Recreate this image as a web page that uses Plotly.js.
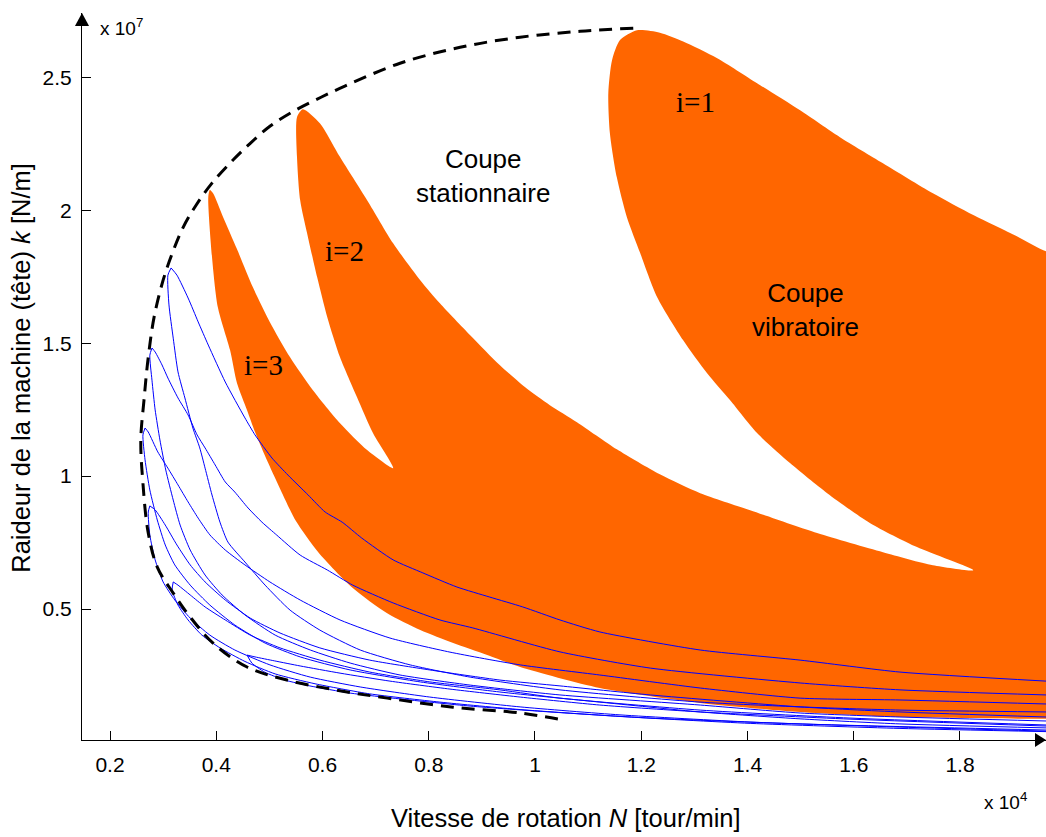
<!DOCTYPE html>
<html>
<head>
<meta charset="utf-8">
<script src="https://cdn.plot.ly/plotly-3.0.1.min.js"></script>
<style>html,body{margin:0;padding:0;background:#fff;}#chart{width:1046px;height:837px;}</style>
</head>
<body>
<div id="chart"></div>
<script>
// ---------- tick labels ----------
const xTickVals = [0.2, 0.4, 0.6, 0.8, 1.0, 1.2, 1.4, 1.6, 1.8];
const xTickText = ['0.2', '0.4', '0.6', '0.8', '1', '1.2', '1.4', '1.6', '1.8'];
const yTickVals = [0.5, 1.0, 1.5, 2.0, 2.5];
const yTickText = ['0.5', '1', '1.5', '2', '2.5'];

// ---------- orange unstable region (boundary pieces, x in 1e4 tr/min, y in 1e7 N/m) ----------
// lower edge of lobe i=3 and of the merged band
const bandLowX = [0.388,0.385,0.392,0.403,0.426,0.439,0.458,0.473,0.497,0.524,0.550,0.592,0.657,0.721,0.784,0.846,0.910,0.972,1.122,1.311,1.499,1.687,1.962,1.99];
const bandLowY = [2.076,2.049,1.824,1.635,1.474,1.350,1.248,1.166,1.053,0.936,0.831,0.714,0.579,0.485,0.421,0.372,0.327,0.282,0.203,0.147,0.113,0.094,0.087,0.087];
// upper-right edge of lobe i=1 (right to top)
const lobe1TopX = [1.99,1.962,1.907,1.825,1.749,1.655,1.574,1.499,1.418,1.343,1.279,1.235,1.192];
const lobe1TopY = [1.846,1.846,1.902,1.982,2.064,2.177,2.275,2.376,2.478,2.572,2.635,2.668,2.677];
// left edge of lobe i=1 (top to lower tip)
const lobe1LeftX = [1.160,1.145,1.138,1.141,1.154,1.173,1.198,1.230,1.279,1.324,1.367,1.418,1.480,1.550,1.631,1.719,1.825];
const lobe1LeftY = [2.640,2.564,2.440,2.290,2.124,1.974,1.839,1.673,1.511,1.387,1.286,1.162,1.049,0.936,0.823,0.733,0.646];
// upper-right edge of lobe i=2 (tip of gap back up to top of lobe)
const lobe2RightX = [1.749,1.655,1.531,1.405,1.311,1.235,1.154,1.079,1.028,0.981,0.934,0.878,0.821,0.784,0.733,0.684,0.633,0.595,0.563];
const lobe2RightY = [0.665,0.714,0.786,0.872,0.936,1.007,1.101,1.203,1.267,1.335,1.417,1.530,1.650,1.737,1.876,2.038,2.200,2.327,2.380];
// left edge of lobe i=2 (top down to gap tip)
const lobe2LeftX = [0.552,0.552,0.558,0.571,0.590,0.609,0.633,0.665,0.695,0.733];
const lobe2LeftY = [2.350,2.200,2.038,1.914,1.748,1.598,1.447,1.297,1.162,1.030];
// upper-right edge of lobe i=3 (gap tip back up to top)
const lobe3RightX = [0.684,0.633,0.582,0.539,0.501,0.469,0.439,0.413,0.394,0.388];
const lobe3RightY = [1.098,1.199,1.323,1.447,1.579,1.710,1.854,1.974,2.064,2.076];

// ---------- dashed envelope ----------
const envX = [1.185,1.085,0.972,0.859,0.746,0.642,0.586,0.539,0.501,0.464,0.432,0.392,0.362,0.337,0.318,0.300,0.283,0.272,0.264,0.258,0.262,0.272,0.289,0.319,0.351,0.394,0.458,0.533,0.627,0.722,0.846,0.972,1.053];
const envY = [2.685,2.673,2.651,2.613,2.553,2.467,2.414,2.365,2.316,2.252,2.190,2.102,2.019,1.933,1.842,1.737,1.598,1.447,1.286,1.135,0.974,0.786,0.658,0.560,0.470,0.372,0.282,0.233,0.195,0.165,0.131,0.109,0.083];

// ---------- blue curves (upper and lower branch from each cusp) ----------
const c1UpX = [0.315,0.326,0.347,0.366,0.385,0.417,0.454,0.473,0.505,0.535,0.573,0.605,0.637,0.674,0.733,0.789,0.853,0.915,0.977,1.047,1.122,1.311,1.499,1.687,1.962];
const c1UpY = [1.783,1.756,1.670,1.580,1.493,1.354,1.219,1.155,1.068,1.004,0.929,0.865,0.827,0.767,0.685,0.636,0.583,0.545,0.508,0.459,0.414,0.346,0.308,0.263,0.229];
const c1LoX = [0.315,0.309,0.311,0.319,0.328,0.341,0.356,0.369,0.379,0.392,0.407,0.422,0.454,0.492,0.539,0.595,0.671,0.765,0.878,1.047,1.311,1.499,1.687,1.962];
const c1LoY = [1.783,1.756,1.644,1.519,1.392,1.294,1.181,1.106,1.030,0.929,0.827,0.752,0.677,0.590,0.496,0.421,0.346,0.290,0.244,0.196,0.150,0.132,0.120,0.113];
const c2UpX = [0.279,0.285,0.298,0.309,0.328,0.347,0.364,0.379,0.398,0.417,0.435,0.460,0.486,0.514,0.558,0.609,0.657,0.733,0.821,0.883,1.047,1.217,1.499,1.687,1.962];
const c2UpY = [1.482,1.467,1.418,1.369,1.294,1.230,1.155,1.106,1.042,0.978,0.940,0.880,0.827,0.778,0.703,0.647,0.590,0.523,0.459,0.429,0.339,0.278,0.222,0.196,0.177];
const c2LoX = [0.279,0.275,0.279,0.285,0.294,0.305,0.319,0.332,0.351,0.379,0.411,0.454,0.511,0.577,0.652,0.746,0.878,1.047,1.311,1.499,1.687,1.962];
const c2LoY = [1.482,1.455,1.361,1.249,1.136,1.023,0.910,0.816,0.722,0.628,0.553,0.478,0.402,0.346,0.297,0.252,0.214,0.177,0.139,0.109,0.094,0.079];
const c3UpX = [0.266,0.272,0.290,0.309,0.328,0.347,0.366,0.388,0.417,0.454,0.501,0.558,0.633,0.727,0.840,0.972,1.122,1.311,1.499,1.687,1.962];
const c3UpY = [1.181,1.166,1.091,1.030,0.967,0.903,0.842,0.779,0.722,0.666,0.602,0.534,0.459,0.391,0.338,0.290,0.252,0.203,0.165,0.158,0.143];
const c3LoX = [0.266,0.262,0.266,0.275,0.289,0.304,0.322,0.351,0.388,0.435,0.492,0.558,0.652,0.784,0.934,1.122,1.311,1.499,1.687,1.962];
const c3LoY = [1.181,1.155,1.061,0.948,0.835,0.741,0.666,0.590,0.515,0.440,0.372,0.320,0.271,0.226,0.188,0.150,0.113,0.087,0.068,0.053];
const c4UpX = [0.275,0.285,0.304,0.326,0.351,0.379,0.417,0.464,0.520,0.595,0.689,0.802,0.934,1.047,1.217,1.499,1.687,1.962];
const c4UpY = [0.888,0.873,0.816,0.741,0.666,0.602,0.534,0.466,0.410,0.354,0.308,0.271,0.233,0.211,0.177,0.132,0.113,0.094];
const c4LoX = [0.275,0.272,0.275,0.285,0.300,0.322,0.351,0.388,0.435,0.501,0.577,0.671,0.802,0.972,1.160,1.405,1.687,1.962];
const c4LoY = [0.888,0.865,0.778,0.685,0.602,0.534,0.466,0.402,0.346,0.290,0.244,0.207,0.169,0.132,0.102,0.075,0.056,0.041];
const c5UpX = [0.319,0.328,0.351,0.379,0.417,0.464,0.520,0.595,0.689,0.802,0.934,1.047,1.311,1.593,1.962];
const c5UpY = [0.602,0.590,0.553,0.508,0.459,0.402,0.354,0.308,0.263,0.226,0.196,0.165,0.120,0.090,0.064];
const c5LoX = [0.319,0.317,0.328,0.347,0.373,0.407,0.454,0.511,0.586,0.689,0.821,0.972,1.160,1.405,1.687,1.962];
const c5LoY = [0.602,0.572,0.515,0.459,0.402,0.354,0.303,0.256,0.219,0.181,0.150,0.122,0.096,0.070,0.051,0.039];
const c6UpX = [0.458,0.473,0.510,0.558,0.633,0.727,0.840,0.972,1.122,1.311,1.593,1.962];
const c6UpY = [0.327,0.320,0.305,0.286,0.259,0.229,0.199,0.169,0.139,0.113,0.086,0.060];
const c6LoX = [0.458,0.467,0.491,0.529,0.576,0.652,0.746,0.878,1.028,1.217,1.499,1.962];
const c6LoY = [0.327,0.297,0.263,0.233,0.211,0.184,0.162,0.135,0.113,0.090,0.068,0.045];

// ---------- build traces ----------
const orangeX = [].concat(bandLowX, lobe1TopX, lobe1LeftX, lobe2RightX, lobe2LeftX, lobe3RightX);
const orangeY = [].concat(bandLowY, lobe1TopY, lobe1LeftY, lobe2RightY, lobe2LeftY, lobe3RightY);

const traces = [{
  x: orangeX, y: orangeY, type: 'scatter', mode: 'lines', fill: 'toself',
  fillcolor: '#FF6600', line: {width: 0, color: '#FF6600', shape: 'spline', smoothing: 0.7}, hoverinfo: 'skip'
}];

const curves = [
  [c1UpX, c1UpY], [c1LoX, c1LoY], [c2UpX, c2UpY], [c2LoX, c2LoY],
  [c3UpX, c3UpY], [c3LoX, c3LoY], [c4UpX, c4UpY], [c4LoX, c4LoY],
  [c5UpX, c5UpY], [c5LoX, c5LoY], [c6UpX, c6UpY], [c6LoX, c6LoY]
];
curves.forEach(c => traces.push({
  x: c[0], y: c[1], type: 'scatter', mode: 'lines',
  line: {color: '#0000FF', width: 1, shape: 'spline', smoothing: 0.6}, hoverinfo: 'skip'
}));

traces.push({
  x: envX, y: envY, type: 'scatter', mode: 'lines',
  line: {color: '#000000', width: 3, dash: '13px,8px', shape: 'spline', smoothing: 1}, hoverinfo: 'skip'
});

const sans = 'Liberation Sans, Arial, sans-serif';
const serif = 'Liberation Serif, Times New Roman, serif';

const layout = {
  width: 1046, height: 837,
  margin: {l: 82, r: 0, t: 13, b: 97, pad: 0},
  paper_bgcolor: '#ffffff', plot_bgcolor: '#ffffff',
  showlegend: false,
  xaxis: {
    range: [0.1473, 1.9619], tickvals: xTickVals, ticktext: xTickText,
    ticks: 'inside', ticklen: 9, tickwidth: 1, tickcolor: '#000',
    showline: true, linecolor: '#000', linewidth: 1, showgrid: false, zeroline: false,
    tickfont: {family: sans, size: 21, color: '#000'}, ticklabelstandoff: 6
  },
  yaxis: {
    range: [0.0075, 2.742], tickvals: yTickVals, ticktext: yTickText,
    ticks: 'inside', ticklen: 9, tickwidth: 1, tickcolor: '#000',
    showline: true, linecolor: '#000', linewidth: 1, showgrid: false, zeroline: false,
    tickfont: {family: sans, size: 21, color: '#000'}, ticklabelstandoff: 5
  },
  shapes: [
    {type: 'path', xref: 'paper', yref: 'paper', path: 'M 0.9886 0.0096 L 1.0 0 L 0.9886 -0.0096 Z', fillcolor: '#000', line: {width: 0}},
    {type: 'path', xref: 'paper', yref: 'paper', path: 'M -0.0073 0.982 L 0 1.0 L 0.0073 0.982 Z', fillcolor: '#000', line: {width: 0}}
  ],
  annotations: [
    {xref: 'paper', yref: 'paper', x: 0.0166, y: 0.981, xanchor: 'left', yanchor: 'middle', showarrow: false,
     text: 'x 10<sup>7</sup>', font: {family: sans, size: 19, color: '#000'}},
    {xref: 'paper', yref: 'paper', x: 0.9336, y: -0.0839, xanchor: 'left', yanchor: 'middle', showarrow: false,
     text: 'x 10<sup>4</sup>', font: {family: sans, size: 19, color: '#000'}},
    {xref: 'paper', yref: 'paper', x: 0.502, y: -0.1073, xanchor: 'center', yanchor: 'middle', showarrow: false,
     text: 'Vitesse de rotation <i>N</i> [tour/min]', font: {family: sans, size: 25.5, color: '#000'}},
    {xref: 'paper', yref: 'paper', x: -0.0633, y: 0.512, xanchor: 'center', yanchor: 'middle', showarrow: false, textangle: -90,
     text: 'Raideur de la machine (tête) <i>k</i> [N/m]', font: {family: sans, size: 25.5, color: '#000'}},
    {x: 1.303, y: 2.407, showarrow: false, text: 'i=1', font: {family: serif, size: 29, color: '#000'}},
    {x: 0.642, y: 1.847, showarrow: false, text: 'i=2', font: {family: serif, size: 29, color: '#000'}},
    {x: 0.488, y: 1.418, showarrow: false, text: 'i=3', font: {family: serif, size: 29, color: '#000'}},
    {x: 0.902, y: 2.129, showarrow: false, text: 'Coupe<br>stationnaire', font: {family: sans, size: 26, color: '#000'}},
    {x: 1.510, y: 1.625, showarrow: false, text: 'Coupe<br>vibratoire', font: {family: sans, size: 26, color: '#000'}}
  ]
};

Plotly.newPlot('chart', traces, layout, {staticPlot: true, displayModeBar: false});
</script>
</body>
</html>
